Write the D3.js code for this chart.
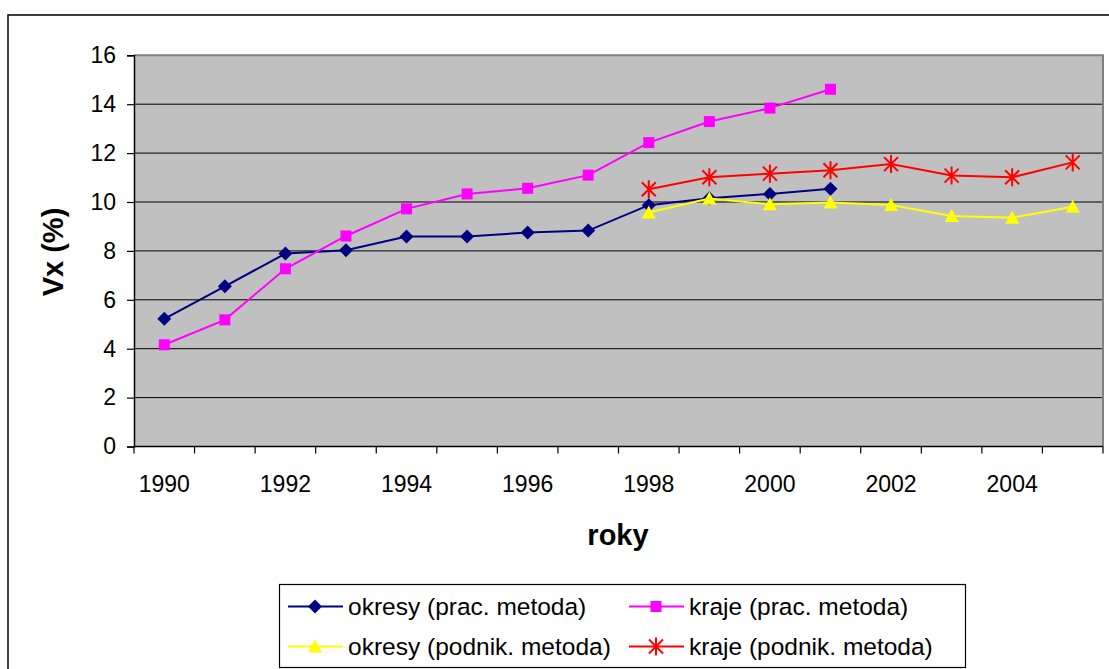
<!DOCTYPE html>
<html>
<head>
<meta charset="utf-8">
<script src="https://cdn.jsdelivr.net/npm/d3@7"></script>
<style>
  body { margin: 0; background: #fff; }
  text { font-family: Arial, "Liberation Sans", sans-serif; fill: #000; }
</style>
</head>
<body>
<div id="chart"></div>
<script>
"use strict"

// data
const years = d3.range(1990, 2006);
const yTicks = [0, 2, 4, 6, 8, 10, 12, 14, 16];
const xLabelYears = [1990, 1992, 1994, 1996, 1998, 2000, 2002, 2004];

const yearsPrac = d3.range(1990, 2002);
const okresyPrac = [5.22, 6.55, 7.89, 8.03, 8.59, 8.59, 8.75, 8.83, 9.87, 10.15, 10.33, 10.54];
const krajePrac = [4.16, 5.18, 7.27, 8.61, 9.72, 10.33, 10.56, 11.10, 12.43, 13.29, 13.84, 14.61];

const yearsPodnik = d3.range(1998, 2006);
const okresyPodnik = [9.57, 10.14, 9.91, 9.98, 9.88, 9.43, 9.36, 9.81];
const krajePodnik = [10.52, 11.01, 11.16, 11.30, 11.55, 11.08, 11.01, 11.62];

const series = [
  {name: "okresy (prac. metoda)",   color: "#000080", marker: "diamond",  x: yearsPrac,   y: okresyPrac},
  {name: "kraje (prac. metoda)",    color: "#FF00FF", marker: "square",   x: yearsPrac,   y: krajePrac},
  {name: "okresy (podnik. metoda)", color: "#FFFF00", marker: "triangle", x: yearsPodnik, y: okresyPodnik},
  {name: "kraje (podnik. metoda)",  color: "#FF0000", marker: "star",     x: yearsPodnik, y: krajePodnik}
];

const W = 1109, H = 669;
const plot = {left: 134, right: 1103, top: 55.3, bottom: 446.5};

const svg = d3.select("#chart").append("svg")
  .attr("width", W).attr("height", H);

// chart frame (cropped at right/bottom)
svg.append("rect")
  .attr("x", 8).attr("y", 15)
  .attr("width", W + 20).attr("height", H + 20)
  .attr("fill", "#fff").attr("stroke", "#000").attr("stroke-width", 1.5);

const x = d3.scaleBand().domain(years).range([plot.left, plot.right]).padding(0);
const cx = (d) => x(d) + x.bandwidth() / 2;
const y = d3.scaleLinear().domain([0, 16]).range([plot.bottom, plot.top]);

// plot area
svg.append("rect")
  .attr("x", plot.left).attr("y", plot.top)
  .attr("width", plot.right - plot.left).attr("height", plot.bottom - plot.top)
  .attr("fill", "#C0C0C0");

// gridlines
svg.append("g")
  .selectAll("line")
  .data(yTicks.filter((t) => t > 0 && t < 16))
  .enter().append("line")
    .attr("x1", plot.left).attr("x2", plot.right)
    .attr("y1", (d) => y(d)).attr("y2", (d) => y(d))
    .attr("stroke", "#000").attr("stroke-width", 1);

// plot border top/right
svg.append("path")
  .attr("d", `M${plot.left},${plot.top}H${plot.right}V${plot.bottom}`)
  .attr("fill", "none").attr("stroke", "#808080").attr("stroke-width", 2);

// y axis
const yAxis = svg.append("g")
  .attr("transform", `translate(${plot.left},0)`)
  .call(d3.axisLeft(y).tickValues(yTicks).tickSize(7).tickPadding(11).tickFormat(d3.format("d")));
yAxis.select(".domain").attr("stroke", "#000").attr("stroke-width", 1.5);
yAxis.selectAll(".tick line").attr("stroke", "#000").attr("stroke-width", 1.2);
yAxis.selectAll(".tick text")
  .style("font-family", "Arial, 'Liberation Sans', sans-serif")
  .style("font-size", "23px").attr("fill", "#000");

// x axis: line, ticks between categories, labels every other year
const xg = svg.append("g");
xg.append("line")
  .attr("x1", plot.left).attr("x2", plot.right)
  .attr("y1", plot.bottom).attr("y2", plot.bottom)
  .attr("stroke", "#000").attr("stroke-width", 1.5);
xg.selectAll("line.tick")
  .data(years.concat([2006]))
  .enter().append("line")
    .attr("class", "tick")
    .attr("x1", (d) => d === 2006 ? plot.right : x(d))
    .attr("x2", (d) => d === 2006 ? plot.right : x(d))
    .attr("y1", plot.bottom).attr("y2", plot.bottom + 7)
    .attr("stroke", "#000").attr("stroke-width", 1.2);
xg.selectAll("text")
  .data(xLabelYears)
  .enter().append("text")
    .attr("x", cx)
    .attr("y", plot.bottom + 45)
    .attr("text-anchor", "middle")
    .style("font-size", "23px")
    .text((d) => d);

// axis titles
svg.append("text")
  .attr("transform", "translate(63,252) rotate(-90)")
  .attr("text-anchor", "middle")
  .style("font-size", "29px").style("font-weight", "bold")
  .text("Vx (%)");
svg.append("text")
  .attr("x", 618).attr("y", 545)
  .attr("text-anchor", "middle")
  .style("font-size", "29px").style("font-weight", "bold")
  .text("roky");

// markers
function drawMarker(g, type, color) {
  if (type === "diamond") {
    g.append("path").attr("d", "M0,-7L7,0L0,7L-7,0Z").attr("fill", color);
  } else if (type === "square") {
    g.append("rect").attr("x", -5.5).attr("y", -5.5).attr("width", 11).attr("height", 11).attr("fill", color);
  } else if (type === "triangle") {
    g.append("path").attr("d", "M0,-7L7,6L-7,6Z").attr("fill", color);
  } else if (type === "star") {
    g.append("path").attr("d", "M-7,-7L7,7M-7,7L7,-7M0,-9V9")
      .attr("stroke", color).attr("stroke-width", 2).attr("fill", "none");
  }
}

const line = d3.line().x((d) => cx(d[0])).y((d) => y(d[1]));

series.forEach((s) => {
  const pts = s.x.map((yr, i) => [yr, s.y[i]]);
  const g = svg.append("g");
  g.append("path")
    .attr("d", line(pts))
    .attr("fill", "none").attr("stroke", s.color).attr("stroke-width", 2);
  g.selectAll("g.m")
    .data(pts)
    .enter().append("g")
      .attr("class", "m")
      .attr("transform", (d) => `translate(${cx(d[0])},${y(d[1])})`)
      .each(function() { drawMarker(d3.select(this), s.marker, s.color); });
});

// legend
const legend = svg.append("g");
legend.append("rect")
  .attr("x", 279.5).attr("y", 584.5).attr("width", 686).attr("height", 83)
  .attr("fill", "#fff").attr("stroke", "#000").attr("stroke-width", 1.2);
const legX = [288, 629];
const legY = [606.5, 646.5];
series.forEach((s, i) => {
  const lx = legX[i % 2], ly = legY[Math.floor(i / 2)];
  const g = legend.append("g");
  g.append("line")
    .attr("x1", lx).attr("x2", lx + 55).attr("y1", ly).attr("y2", ly)
    .attr("stroke", s.color).attr("stroke-width", 2);
  drawMarker(g.append("g").attr("transform", `translate(${lx + 27},${ly})`), s.marker, s.color);
  g.append("text")
    .attr("x", lx + 60).attr("y", ly)
    .attr("dy", "0.35em")
    .style("font-size", "24.5px")
    .text(s.name);
});
</script>
</body>
</html>
